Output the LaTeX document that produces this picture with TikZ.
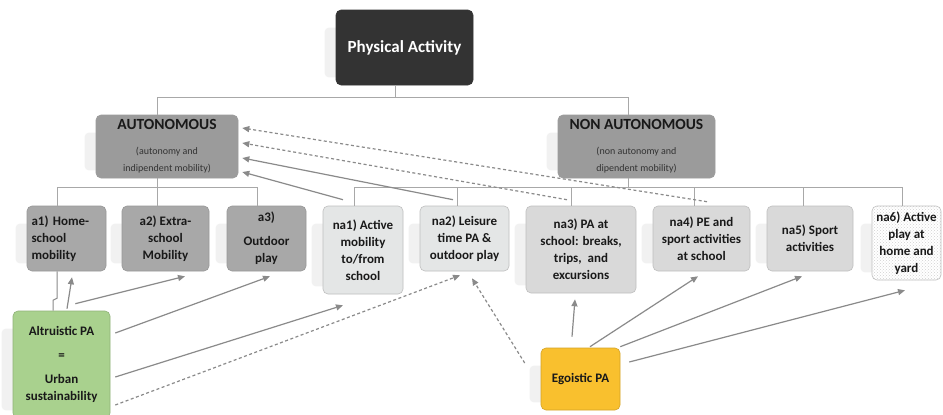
\documentclass[tikz,border=0pt]{standalone}
\usepackage{fontspec}
\setmainfont{Carlito}
\usetikzlibrary{arrows.meta,calc,backgrounds,patterns}
\definecolor{pac}{HTML}{333333}
\definecolor{autc}{HTML}{9B9B9B}
\definecolor{aboxc}{HTML}{A8A8A8}
\definecolor{nboxc}{HTML}{D9D9D9}
\definecolor{marblec}{HTML}{E4E6E6}
\definecolor{altc}{HTML}{A9D18E}
\definecolor{egoc}{HTML}{F9C02E}
\definecolor{edgec}{HTML}{8A8A8A}
\definecolor{treec}{HTML}{A8A8A8}
\definecolor{shadc}{HTML}{F1F1F1}
\newcommand{\subtxt}{\fontsize{10}{15}\selectfont\mdseries\color{black!80}}
\begin{document}
\begin{tikzpicture}[x=1pt,y=-1pt,
  box/.style={rounded corners=5pt, draw=black!25, line width=0.6pt, inner sep=2pt,
    align=center, font=\fontsize{13}{17}\selectfont\bfseries, text=black!90},
  darkbox/.style={box, fill=pac, draw=pac, text=white, font=\fontsize{17}{20}\selectfont\bfseries},
  catbox/.style={box, fill=autc, draw=autc, font=\fontsize{15.5}{17}\selectfont\bfseries},
  abox/.style={box, fill=aboxc, draw=aboxc!90!black},
  nbox/.style={box, fill=nboxc},
  mbox/.style={box, fill=marblec},
  dbox/.style={box, preaction={fill=white}, pattern=crosshatch dots, pattern color=black!18},
  arr/.style={draw=edgec, line width=1.2pt, -{Triangle[length=7pt,width=6pt]}},
  darr/.style={arr, dash pattern=on 3pt off 2.5pt},
  tree/.style={draw=treec, line width=1pt}]
\useasboundingbox (0,0) rectangle (943,415);

% boxes
\node[darkbox, minimum width=137pt, minimum height=75pt] (PA) at (404.5,47.5) {Physical Activity};
\node[catbox, minimum width=142pt, minimum height=63pt] (AUT) at (167,146.5)
  {AUTONOMOUS\\[8pt]{\subtxt (autonomy and}\\{\subtxt indipendent mobility)}};
\node[catbox, minimum width=157pt, minimum height=63pt] (NON) at (636.5,146.5)
  {NON AUTONOMOUS\\[8pt]{\subtxt (non autonomy and}\\{\subtxt dipendent mobility)}};

\node[abox, minimum width=79pt, minimum height=65pt, text width=70pt, align=left] (a1) at (66.5,238.5) {a1) Home-\\school\\mobility};
\node[abox, minimum width=87pt, minimum height=65pt] (a2) at (165.5,238.5) {a2) Extra-\\school\\Mobility};
\node[abox, minimum width=79pt, minimum height=65pt] (a3) at (266.5,238.5) {a3)\\[7pt]Outdoor\\play};

\node[mbox, minimum width=80pt, minimum height=88pt] (na1) at (363,250) {na1) Active\\mobility\\to/from\\school};
\node[mbox, minimum width=89pt, minimum height=65pt] (na2) at (464.5,238.5) {na2) Leisure\\time PA \&\\outdoor play};
\node[nbox, minimum width=110pt, minimum height=87pt] (na3) at (581,249.5) {na3) PA at\\school: breaks,\\trips,\ \ and\\excursions};
\node[nbox, minimum width=97pt, minimum height=65pt] (na4) at (701.5,238.5) {na4) PE and\\sport activities\\at school};
\node[nbox, minimum width=86pt, minimum height=65pt] (na5) at (810,238.5) {na5) Sport\\activities};
\node[dbox, minimum width=69pt, minimum height=74pt] (na6) at (906.5,243) {na6) Active\\play at\\home and\\yard};

\node[box, fill=altc, draw=altc!85!black, minimum width=97pt, minimum height=107pt] (alt) at (61.5,364.5)
  {Altruistic PA\\[7pt]=\\[7pt]Urban\\sustainability};
\node[box, fill=egoc, draw=egoc!85!black, minimum width=79pt, minimum height=62pt] (ego) at (580.5,379) {Egoistic PA};

% shadows and background
\begin{scope}[on background layer]
\fill[white] (0,0) rectangle (943,415);
\foreach \n in {PA,AUT,NON,a1,a2,a3,na1,na2,na3,na4,na5,na6,alt,ego}
  \fill[shadc, rounded corners=4pt] ($(\n.north west)+(-11,18)$) rectangle ($(\n.south west)+(20,-8)$);
\end{scope}

% tree
\draw[tree] ([xshift=-9pt]PA.south) -- ++(0,12) coordinate (t0);
\draw[tree] ([xshift=-10pt]AUT.north) |- (t0) -| ([xshift=-8pt]NON.north);
\draw[tree] ([xshift=-10pt]AUT.south) -- ++(0,9) coordinate (t1);
\draw[tree] ([xshift=-9.5pt]a1.north) |- (t1) -| ([xshift=-9.5pt]a3.north);
\draw[tree] (t1) -- (t1 |- a2.north);
\draw[tree] ([xshift=-8pt]NON.south) -- ++(0,9) coordinate (t2);
\draw[tree] ([xshift=-9pt]na1.north) |- (t2) -| ([xshift=-4.5pt]na6.north);
\foreach \n/\s in {na2/-7.5,na3/-10,na4/-7.5,na5/-7}
  \draw[tree] ($(\n.north)+(\s,0)$) -- ++(0,-19);

% a1 hook
\draw[draw=edgec, line width=1pt] ($(a1.south)+(-9.5,0)$) -- ++(0,27) -- ++(-4,2) -- ($(alt.north)+(-8.5,0)$);

% arrows from altruistic
\draw[arr] ($(alt.north)+(5.5,-2)$) -- ($(a1.south)+(5.5,6)$);
\draw[arr] ($(alt.north east)+(-35,-7)$) -- ($(a2.south)+(19.5,5)$);
\draw[arr] ($(alt.east)+(5,-31.5)$) -- ($(a3.south)+(3.5,5)$);
\draw[arr] ($(alt.east)+(5,12.5)$) -- ($(na1.south)+(-20,11)$);
\draw[darr] ($(alt.east)+(5,40.5)$) -- ($(na2.south)+(-4.5,4)$);

% arrows from egoistic
\draw[darr] ($(ego.west)+(-16,-16)$) -- ($(na2.south)+(7.5,7)$);
\draw[arr] ($(ego.north)+(-8.5,-11)$) -- ($(na3.south)+(-6,6)$);
\draw[arr] ($(ego.north)+(9.5,-1)$) -- ($(na4.south)+(-3.5,5)$);
\draw[arr] ($(ego.north east)+(0,-1)$) -- ($(na5.south)+(-8,5)$);
\draw[arr] ($(ego.east)+(9,-17)$) -- ($(na6.south)+(-1.5,10)$);

% arrows to autonomous
\draw[arr] ($(na1.north)+(-20,-6)$) -- ($(AUT.east)+(4,25.5)$);
\draw[arr] ($(na2.north)+(-11.5,-6)$) -- ($(AUT.east)+(4,11.5)$);
\draw[darr] ($(na3.north)+(-14,-6)$) -- ($(AUT.east)+(4,-3.5)$);
\draw[darr] ($(na4.north)+(5.5,-4)$) -- ($(AUT.east)+(4,-18.5)$);
\end{tikzpicture}
\end{document}
